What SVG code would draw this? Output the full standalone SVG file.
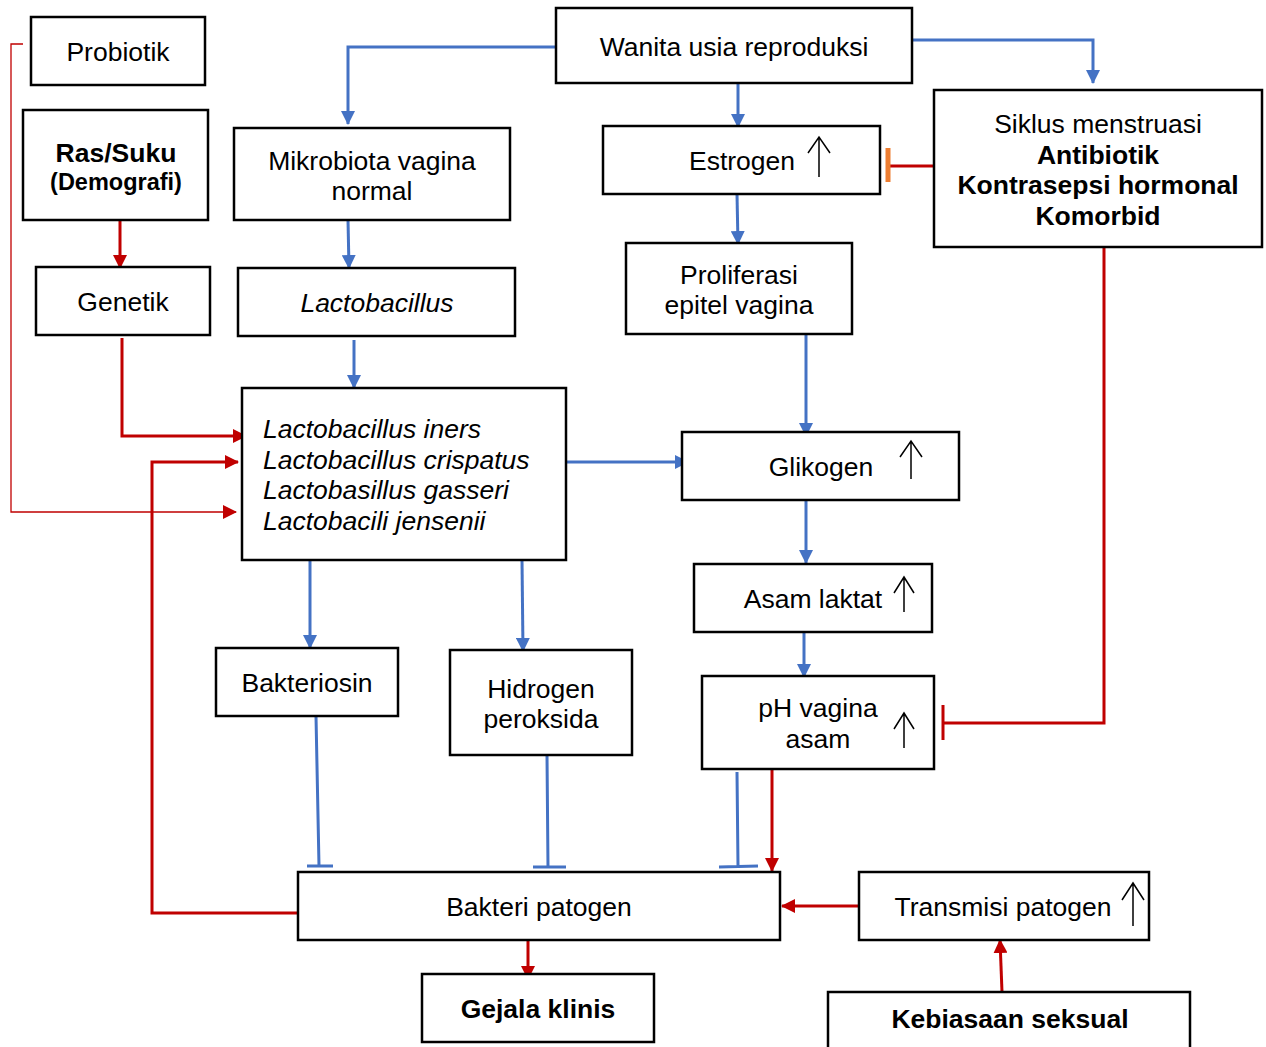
<svg xmlns="http://www.w3.org/2000/svg" width="1266" height="1047" viewBox="0 0 1266 1047">
<style>
.box{fill:#fff;stroke:#000;stroke-width:2.5}
.t{font-family:"Liberation Sans",Arial,sans-serif;font-size:26.5px;fill:#000;text-anchor:middle}
.b{font-weight:bold}
.i{font-style:italic}
.l{text-anchor:start}
.blue{fill:none;stroke:#4472C4;stroke-width:3}
.red{fill:none;stroke:#C00000;stroke-width:3}
.thin{fill:none;stroke:#C00000;stroke-width:1.3}
.up{fill:none;stroke:#000;stroke-width:1.5}
</style>
<defs>
<marker id="ab" markerUnits="userSpaceOnUse" markerWidth="14" markerHeight="14" refX="13" refY="7" orient="auto"><path d="M0,0 L14,7 L0,14 z" fill="#4472C4"/></marker>
<marker id="ar" markerUnits="userSpaceOnUse" markerWidth="14" markerHeight="14" refX="13" refY="7" orient="auto"><path d="M0,0 L14,7 L0,14 z" fill="#C00000"/></marker>
</defs>
<g id="connectors">
<path class="blue" d="M556,47 H348 V124" marker-end="url(#ab)"/>
<path class="blue" d="M738,83 V127" marker-end="url(#ab)"/>
<path class="blue" d="M912,40 H1093 V83" marker-end="url(#ab)"/>
<path class="blue" d="M737,194 L738,244" marker-end="url(#ab)"/>
<path class="blue" d="M348,220 L349,268" marker-end="url(#ab)"/>
<path class="blue" d="M354,340 V388" marker-end="url(#ab)"/>
<path class="blue" d="M566,462 H688" marker-end="url(#ab)"/>
<path class="blue" d="M806,334 V436" marker-end="url(#ab)"/>
<path class="blue" d="M806,500 V563" marker-end="url(#ab)"/>
<path class="blue" d="M804,632 V677" marker-end="url(#ab)"/>
<path class="blue" d="M310,560 V648" marker-end="url(#ab)"/>
<path class="blue" d="M522,560 L523,651" marker-end="url(#ab)"/>
<path class="blue" d="M316,716 L319,866 M307,866 H333"/>
<path class="blue" d="M547,755 L548,867 M533,867 H566"/>
<path class="blue" d="M737,772 L738,866 M719,867 L758,866"/>
<path class="red" d="M120,220 V268" marker-end="url(#ar)"/>
<path class="red" d="M122,338 V436 H246" marker-end="url(#ar)"/>
<path class="red" d="M302,913 H152 V462 H238" marker-end="url(#ar)"/>
<path class="thin" d="M23,44 H11 V512 H236" marker-end="url(#ar)"/>
<path class="red" d="M934,166 H889"/>
<path d="M888,148 V182" stroke="#ED7D31" stroke-width="5" fill="none"/>
<path class="red" d="M1104,247 V723 H943 M943,705 V740"/>
<path class="red" d="M772,769 V871" marker-end="url(#ar)"/>
<path class="red" d="M859,906 H782" marker-end="url(#ar)"/>
<path class="red" d="M1002,992 L1000,940" marker-end="url(#ar)"/>
<path class="red" d="M528,940 V979" marker-end="url(#ar)"/>
</g>
<g id="probiotik"><rect class="box" x="31" y="17" width="174" height="68"/><text class="t" x="118" y="61">Probiotik</text></g>
<g id="ras"><rect class="box" x="23" y="110" width="185" height="110"/><text class="t b" x="116" y="162">Ras/Suku</text><text class="t b" x="116" y="190" style="font-size:23.5px">(Demografi)</text></g>
<g id="genetik"><rect class="box" x="36" y="267" width="174" height="68"/><text class="t" x="123" y="311">Genetik</text></g>
<g id="mikrobiota"><rect class="box" x="234" y="128" width="276" height="92"/><text class="t" x="372" y="170">Mikrobiota vagina</text><text class="t" x="372" y="200">normal</text></g>
<g id="lactobacillus"><rect class="box" x="238" y="268" width="277" height="68"/><text class="t i" x="377" y="312">Lactobacillus</text></g>
<g id="species"><rect class="box" x="242" y="388" width="324" height="172"/>
<text class="t i l" x="263" y="438">Lactobacillus iners</text>
<text class="t i l" x="263" y="469">Lactobacillus crispatus</text>
<text class="t i l" x="263" y="499">Lactobasillus gasseri</text>
<text class="t i l" x="263" y="530">Lactobacili jensenii</text></g>
<g id="wanita"><rect class="box" x="556" y="8" width="356" height="75"/><text class="t" x="734" y="56">Wanita usia reproduksi</text></g>
<g id="estrogen"><rect class="box" x="603" y="126" width="277" height="68"/><text class="t" x="742" y="170">Estrogen</text><path class="up" d="M819,177 V137 M808,153 L819,137 L830,153"/></g>
<g id="siklus"><rect class="box" x="934" y="90" width="328" height="157"/><text class="t" x="1098" y="133">Siklus menstruasi</text><text class="t b" x="1098" y="164">Antibiotik</text><text class="t b" x="1098" y="194">Kontrasepsi hormonal</text><text class="t b" x="1098" y="225">Komorbid</text></g>
<g id="proliferasi"><rect class="box" x="626" y="243" width="226" height="91"/><text class="t" x="739" y="284">Proliferasi</text><text class="t" x="739" y="314">epitel vagina</text></g>
<g id="glikogen"><rect class="box" x="682" y="432" width="277" height="68"/><text class="t" x="821" y="476">Glikogen</text><path class="up" d="M911,479 V441 M900,457 L911,441 L922,457"/></g>
<g id="asamlaktat"><rect class="box" x="694" y="564" width="238" height="68"/><text class="t" x="813" y="608">Asam laktat</text><path class="up" d="M904,612 V577 M894,593 L904,577 L914,593"/></g>
<g id="ph"><rect class="box" x="702" y="676" width="232" height="93"/><text class="t" x="818" y="717">pH vagina</text><text class="t" x="818" y="748">asam</text><path class="up" d="M904,748 V713 M894,729 L904,713 L914,729"/></g>
<g id="bakteriosin"><rect class="box" x="216" y="648" width="182" height="68"/><text class="t" x="307" y="692">Bakteriosin</text></g>
<g id="hidrogen"><rect class="box" x="450" y="650" width="182" height="105"/><text class="t" x="541" y="698">Hidrogen</text><text class="t" x="541" y="728">peroksida</text></g>
<g id="bakteri"><rect class="box" x="298" y="872" width="482" height="68"/><text class="t" x="539" y="916">Bakteri patogen</text></g>
<g id="transmisi"><rect class="box" x="859" y="872" width="290" height="68"/><text class="t" x="1003" y="916">Transmisi patogen</text><path class="up" d="M1133,926 V883 M1122,900 L1133,883 L1144,900"/></g>
<g id="gejala"><rect class="box" x="422" y="974" width="232" height="68"/><text class="t b" x="538" y="1018">Gejala klinis</text></g>
<g id="kebiasaan"><rect class="box" x="828" y="992" width="362" height="65"/><text class="t b" x="1010" y="1028">Kebiasaan seksual</text></g>
</svg>
